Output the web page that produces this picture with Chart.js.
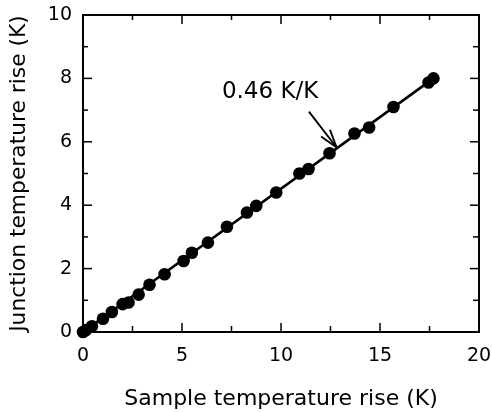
<!DOCTYPE html>
<html>
<head>
<meta charset="utf-8">
<script src="https://cdn.jsdelivr.net/npm/chart.js@4/dist/chart.umd.min.js"></script>
<style>
  html, body { margin: 0; padding: 0; background: #fff; }
  #wrap { width: 492px; height: 412px; position: relative; }
</style>
</head>
<body>
<div id="wrap"><canvas id="c" width="492" height="412"></canvas></div>
<script>
// ---- data ----
const sampleRise = [0.0, 0.15, 0.45, 1.01, 1.46, 2.0, 2.3, 2.81, 3.36, 4.12, 5.08, 5.5, 6.31, 7.27, 8.28, 8.75, 9.76, 10.93, 11.39, 12.45, 13.71, 14.45, 15.68, 17.45, 17.7];
const junctionRise = [0.0, 0.06, 0.18, 0.42, 0.63, 0.88, 0.93, 1.18, 1.49, 1.82, 2.24, 2.5, 2.82, 3.32, 3.77, 3.98, 4.4, 5.0, 5.14, 5.64, 6.26, 6.45, 7.1, 7.87, 8.0];
const fitX = [0, 17.7];
const fitY = [0, 8.0];
const xMajorTicks = [0, 5, 10, 15, 20];
const xMinorTicks = [2.5, 7.5, 12.5, 17.5];
const yMajorTicks = [0, 2, 4, 6, 8, 10];
const yMinorTicks = [1, 3, 5, 7, 9];
const annotationText = "0.46 K/K";
const annotationAt = [9.45, 7.37];          // text centre x, baseline y (data units)
const arrowFrom = [11.41, 6.95];
const arrowTo = [12.81, 5.82];

const FONT = "'DejaVu Sans', 'Liberation Sans', Arial, sans-serif";

const frameTicks = {
  id: 'frameTicks',
  afterDraw(chart) {
    const ctx = chart.ctx, a = chart.chartArea;
    const xs = chart.scales.x, ys = chart.scales.y;
    ctx.save();
    ctx.strokeStyle = '#000';
    ctx.lineWidth = 2;
    ctx.strokeRect(a.left, a.top, a.right - a.left, a.bottom - a.top);
    ctx.lineWidth = 1.5;
    const tick = (x1, y1, x2, y2) => { ctx.beginPath(); ctx.moveTo(x1, y1); ctx.lineTo(x2, y2); ctx.stroke(); };
    xMajorTicks.forEach(v => { const p = xs.getPixelForValue(v); tick(p, a.bottom, p, a.bottom - 9); tick(p, a.top, p, a.top + 9); });
    xMinorTicks.forEach(v => { const p = xs.getPixelForValue(v); tick(p, a.bottom, p, a.bottom - 6); tick(p, a.top, p, a.top + 5); });
    yMajorTicks.forEach(v => { const p = ys.getPixelForValue(v); tick(a.left, p, a.left + 9, p); tick(a.right, p, a.right - 9, p); });
    yMinorTicks.forEach(v => { const p = ys.getPixelForValue(v); tick(a.left, p, a.left + 5, p); tick(a.right, p, a.right - 6, p); });

    // annotation text
    ctx.fillStyle = '#000';
    ctx.font = '23px ' + FONT;
    ctx.textAlign = 'center';
    ctx.textBaseline = 'alphabetic';
    ctx.fillText(annotationText, xs.getPixelForValue(annotationAt[0]), ys.getPixelForValue(annotationAt[1]));

    // arrow
    const x1 = xs.getPixelForValue(arrowFrom[0]), y1 = ys.getPixelForValue(arrowFrom[1]);
    const x2 = xs.getPixelForValue(arrowTo[0]), y2 = ys.getPixelForValue(arrowTo[1]);
    ctx.lineWidth = 1.9;
    tick(x1, y1, x2, y2);
    const ang = Math.atan2(y2 - y1, x2 - x1), L = 19, spread = 0.3;
    tick(x2, y2, x2 - L * Math.cos(ang - spread), y2 - L * Math.sin(ang - spread));
    tick(x2, y2, x2 - L * Math.cos(ang + spread), y2 - L * Math.sin(ang + spread));
    ctx.restore();
  }
};

new Chart(document.getElementById('c'), {
  type: 'scatter',
  data: {
    datasets: [
      {
        label: 'fit',
        type: 'line',
        data: fitX.map((x, i) => ({ x: x, y: fitY[i] })),
        borderColor: '#000',
        borderWidth: 2.6,
        pointRadius: 0,
        fill: false,
        clip: false,
        order: 2
      },
      {
        label: 'data',
        data: sampleRise.map((x, i) => ({ x: x, y: junctionRise[i] })),
        backgroundColor: '#000',
        borderColor: '#000',
        pointRadius: 6.3,
        pointBorderWidth: 0,
        clip: false,
        order: 1
      }
    ]
  },
  options: {
    responsive: false,
    animation: false,
    events: [],
    layout: { padding: { top: 15, right: 13, left: 0, bottom: 0 } },
    plugins: { legend: { display: false }, tooltip: { enabled: false } },
    scales: {
      x: {
        type: 'linear', min: 0, max: 20,
        ticks: { stepSize: 5, color: '#000', font: { family: FONT, size: 19 }, padding: 13, maxRotation: 0 },
        grid: { display: false, drawTicks: false },
        border: { display: false },
        title: { display: true, text: 'Sample temperature rise (K)', color: '#000', font: { family: FONT, size: 22 }, padding: { top: 9, bottom: 0 } },
        afterFit(s) { s.height = 80; s.paddingLeft = 0; s.paddingRight = 0; }
      },
      y: {
        type: 'linear', min: 0, max: 10,
        ticks: { stepSize: 2, color: '#000', font: { family: FONT, size: 19 }, padding: 11 },
        grid: { display: false, drawTicks: false },
        border: { display: false },
        title: { display: true, text: 'Junction temperature rise (K)', color: '#000', font: { family: FONT, size: 21.8 }, padding: { top: 6, bottom: 0 } },
        afterFit(s) { s.width = 83; s.paddingTop = 0; s.paddingBottom = 0; }
      }
    }
  },
  plugins: [frameTicks]
});
</script>
</body>
</html>
